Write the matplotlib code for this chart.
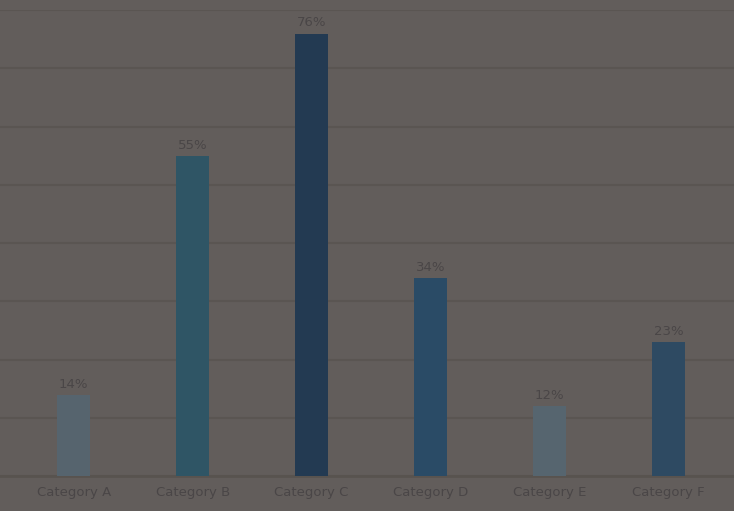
import matplotlib
matplotlib.use('Agg')
import matplotlib.pyplot as plt

categories = ['Category A', 'Category B', 'Category C', 'Category D', 'Category E', 'Category F']
values = [14, 55, 76, 34, 12, 23]
value_labels = ['14%', '55%', '76%', '34%', '12%', '23%']

bar_colors = ['#56646e', '#2f5565', '#233a52', '#2a4b66', '#56656f', '#2e4a62']
bg = '#625d5b'
dark = '#4a4647'

fig = plt.figure(figsize=(7.34, 5.11), dpi=100, facecolor=bg)
ax = fig.add_axes([0.0, 0.068, 1.0, 0.912])
ax.set_facecolor(bg)

x = list(range(len(categories)))
bars = ax.bar(x, values, width=0.28, color=bar_colors, zorder=3)

ax.set_xlim(-0.62, 5.55)
ax.set_ylim(0, 80)
ax.set_yticks(range(0, 81, 10))
ax.yaxis.grid(True, color='#5a5552', linewidth=1.6, zorder=0)
ax.tick_params(left=False, labelleft=False, bottom=False)

for side in ['top', 'right', 'left']:
    ax.spines[side].set_visible(False)
ax.spines['bottom'].set_color('#58534f')
ax.spines['bottom'].set_linewidth(2)

ax.bar_label(bars, labels=value_labels, padding=3, color=dark, fontsize=9.5)

ax.set_xticks(x)
ax.set_xticklabels(categories, color=dark, fontsize=9.5)

fig.savefig('out.png', dpi=100, facecolor=bg)
